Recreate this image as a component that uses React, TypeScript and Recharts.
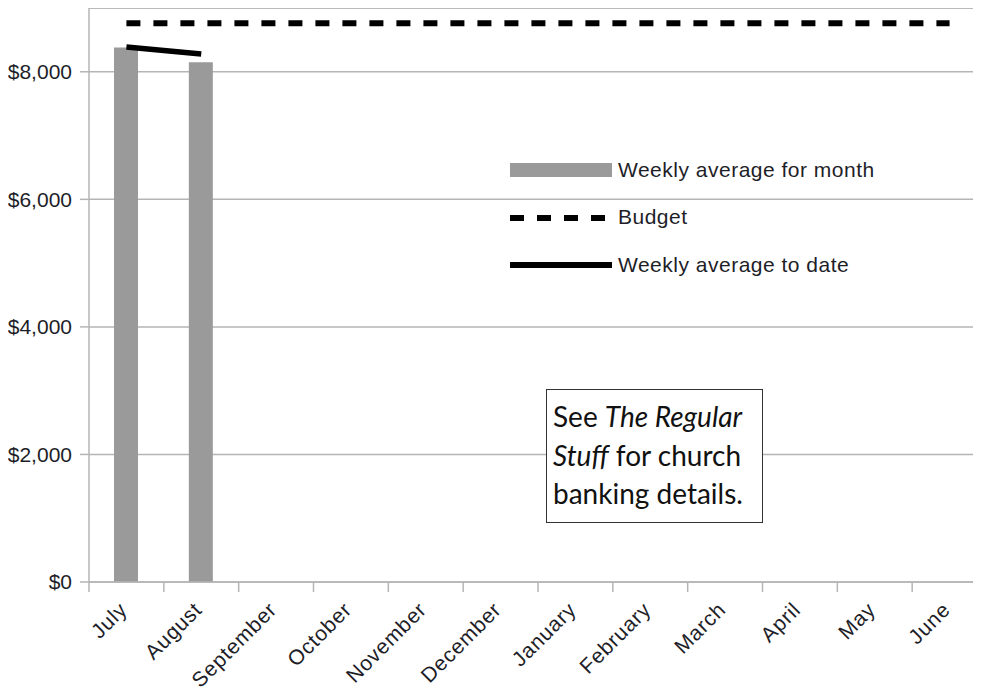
import React from 'react';
import { ComposedChart, Bar, Line, XAxis, YAxis, CartesianGrid, ReferenceLine, Legend } from 'recharts';

const months = ['July', 'August', 'September', 'October', 'November', 'December', 'January', 'February', 'March', 'April', 'May', 'June'];
const weeklyForMonth: (number | null)[] = [8380, 8150, null, null, null, null, null, null, null, null, null, null];
const budget: number[] = [8760, 8760, 8760, 8760, 8760, 8760, 8760, 8760, 8760, 8760, 8760, 8760];
const weeklyToDate: (number | null)[] = [8390, 8280, null, null, null, null, null, null, null, null, null, null];
const yTicks = [0, 2000, 4000, 6000, 8000];
const yMax = 9000;

const data = months.map((m, i) => ({
  month: m,
  weeklyForMonth: weeklyForMonth[i],
  budget: budget[i],
  weeklyToDate: weeklyToDate[i],
}));

const GRID = '#b5b5b5';
const TEXT = '#1e1e28';
const FONT = '"Liberation Sans", Arial, sans-serif';

const XTick = (props: any) => {
  const { x, y, payload } = props;
  const off = payload && payload.offset ? payload.offset : 0;
  const tx = x + 2;
  const ty = y + 29;
  return (
    <g>
      <line x1={x - off} x2={x - off} y1={y} y2={y + 10} stroke={GRID} strokeWidth={1.5} />
      <text
        x={tx}
        y={ty}
        textAnchor="end"
        transform={`rotate(-45 ${tx} ${ty})`}
        fontFamily={FONT}
        fontSize={21}
        letterSpacing={0.8}
        fill={TEXT}
      >
        {payload.value}
      </text>
    </g>
  );
};

const legendItems = [
  { key: 'bar', label: 'Weekly average for month' },
  { key: 'dash', label: 'Budget' },
  { key: 'line', label: 'Weekly average to date' },
];

const renderLegend = () => (
  <div style={{ fontFamily: FONT, fontSize: 21, color: TEXT, letterSpacing: 0.5 }}>
    {legendItems.map((it) => (
      <div key={it.key} style={{ display: 'flex', alignItems: 'center', height: 47.5 }}>
        <svg width={102} height={20} style={{ display: 'block' }}>
          {it.key === 'bar' && <rect x={0} y={3} width={102} height={14} fill="#9a9a9a" />}
          {it.key === 'dash' && (
            <line x1={0} x2={102} y1={11} y2={11} stroke="#000" strokeWidth={6} strokeDasharray="14 13" />
          )}
          {it.key === 'line' && <line x1={0} x2={102} y1={10} y2={10} stroke="#000" strokeWidth={6} />}
        </svg>
        <span style={{ marginLeft: 6, whiteSpace: 'nowrap' }}>{it.label}</span>
      </div>
    ))}
  </div>
);

export default function App() {
  return (
    <div style={{ position: 'relative', width: 973, height: 684, overflow: 'hidden', background: '#fff' }}>
      <ComposedChart width={990} height={684} data={data} margin={{ top: 0, right: 11, left: 0, bottom: 0 }}>
        <CartesianGrid vertical={false} stroke={GRID} strokeWidth={1.5} />
        <ReferenceLine y={yMax} stroke={GRID} strokeWidth={1.5} />
        <XAxis
          dataKey="month"
          axisLine={{ stroke: GRID, strokeWidth: 1.5 }}
          tickLine={false}
          tickSize={0}
          tickMargin={0}
          height={110}
          interval={0}
          tick={<XTick />}
        />
        <YAxis
          width={81}
          domain={[0, yMax]}
          ticks={yTicks}
          axisLine={{ stroke: GRID, strokeWidth: 1.5 }}
          tickLine={{ stroke: GRID, strokeWidth: 1.5 }}
          tickSize={9}
          tickMargin={8}
          tickFormatter={(v: number) => '$' + v.toLocaleString('en-US')}
          tick={{ fontFamily: FONT, fontSize: 21, fill: TEXT }}
        />
        <Legend
          layout="vertical"
          align="center"
          verticalAlign="middle"
          content={renderLegend}
          wrapperStyle={{ left: 502, top: 138, width: 420, height: 150 }}
        />
        <Bar dataKey="weeklyForMonth" fill="#9a9a9a" barSize={24} isAnimationActive={false} />
        <Line
          dataKey="budget"
          stroke="#000"
          strokeWidth={6}
          strokeDasharray="14 13"
          dot={false}
          activeDot={false}
          isAnimationActive={false}
        />
        <Line
          dataKey="weeklyToDate"
          stroke="#000"
          strokeWidth={5.5}
          dot={false}
          activeDot={false}
          isAnimationActive={false}
        />
      </ComposedChart>
      <div
        style={{
          position: 'absolute',
          left: 538,
          top: 381,
          width: 217,
          height: 134,
          boxSizing: 'border-box',
          border: '1px solid #333',
          background: '#fff',
          padding: '7px 0 0 6px',
          fontFamily: 'Lato, "Noto Sans", sans-serif',
          fontSize: 28,
          lineHeight: '38.5px',
          color: '#111',
        }}
      >
        See <i>The Regular</i>
        <br />
        <i>Stuff</i> for church
        <br />
        banking details.
      </div>
    </div>
  );
}
